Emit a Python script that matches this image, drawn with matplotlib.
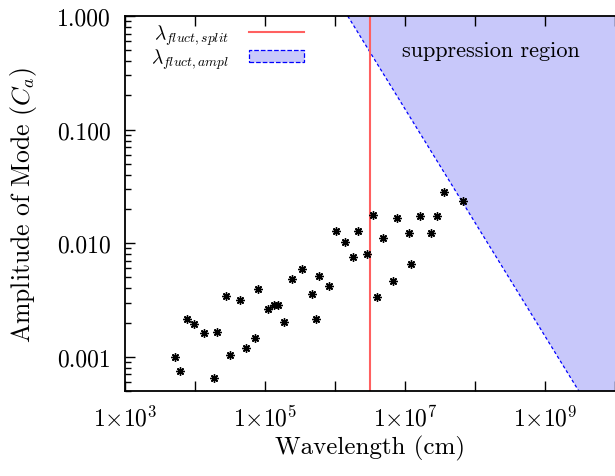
import numpy as np
import matplotlib
matplotlib.use("Agg")
import matplotlib.pyplot as plt
from matplotlib.lines import Line2D
from matplotlib.patches import Patch
from matplotlib.ticker import LogLocator, FixedLocator, FuncFormatter, NullLocator

plt.rcParams["font.family"] = "serif"
plt.rcParams["font.serif"] = ["cmr10", "DejaVu Serif"]
plt.rcParams["mathtext.fontset"] = "cm"
plt.rcParams["axes.formatter.use_mathtext"] = True

# --- data ---
wavelength = [5.2e3, 6.1e3, 7.7e3, 9.8e3, 1.36e4, 1.85e4, 2.05e4, 2.75e4, 3.13e4, 4.39e4,
              5.29e4, 7.11e4, 7.85e4, 1.12e5, 1.36e5, 1.55e5, 1.86e5, 2.45e5, 3.43e5, 4.66e5,
              5.31e5, 5.86e5, 8.32e5, 1.02e6, 1.37e6, 1.79e6, 2.10e6, 2.86e6, 3.49e6, 3.96e6,
              4.89e6, 6.79e6, 7.67e6, 1.15e7, 1.23e7, 1.66e7, 2.34e7, 2.90e7, 3.66e7, 6.68e7]
amplitude = [1.0e-3, 7.5e-4, 2.16e-3, 1.93e-3, 1.63e-3, 6.45e-4, 1.66e-3, 3.45e-3, 1.03e-3, 3.14e-3,
             1.19e-3, 1.45e-3, 3.97e-3, 2.63e-3, 2.85e-3, 2.85e-3, 2.03e-3, 4.84e-3, 5.93e-3, 3.59e-3,
             2.15e-3, 5.14e-3, 4.22e-3, 1.28e-2, 1.02e-2, 7.55e-3, 1.27e-2, 8.03e-3, 1.78e-2, 3.38e-3,
             1.10e-2, 4.62e-3, 1.66e-2, 1.24e-2, 6.6e-3, 1.74e-2, 1.24e-2, 1.74e-2, 2.84e-2, 2.37e-2]

lambda_split = 3.2e6
# suppression boundary (lambda_fluct,ampl) end points
supp_x = [1.52e6, 1e10]
supp_y = [1.0, 1.52e-4]

fig = plt.figure(figsize=(6.15, 4.77), dpi=100)
ax = fig.add_axes([125 / 615, 1 - 392 / 477, 490 / 615, (392 - 17) / 477])
ax.set_xscale("log")
ax.set_yscale("log")
ax.set_xlim(1e3, 1e10)
ax.set_ylim(5e-4, 1.0)

ax.fill_between(supp_x, supp_y, [1.0, 1.0], facecolor="#c8c8fa", edgecolor="none", zorder=1)
ax.plot(supp_x, supp_y, color="#0000ff", lw=0.9, ls=(0, (2.5, 2)), zorder=2)
ax.axvline(lambda_split, color="#ff6060", lw=1.5, zorder=2)
ax.plot(wavelength, amplitude, ls="none", marker=(8, 2, 0), ms=6, mew=1.0, color="black", zorder=3)

ax.text(1.7e8, 0.5, "suppression region", fontsize=16, ha="center", va="center")

# ticks
ax.xaxis.set_major_locator(FixedLocator([10.0 ** k for k in range(3, 11)]))
ax.xaxis.set_minor_locator(NullLocator())
def xfmt(v, pos):
    k = int(round(np.log10(v)))
    return r"$1{\times}10^{%d}$" % k if k % 2 == 1 else ""
ax.xaxis.set_major_formatter(FuncFormatter(xfmt))
ax.yaxis.set_major_locator(FixedLocator([1e-3, 1e-2, 1e-1, 1.0]))
ax.yaxis.set_minor_locator(LogLocator(base=10, subs=np.arange(2, 10)))
ax.yaxis.set_major_formatter(FuncFormatter(lambda v, pos: "%.3f" % v))
ax.tick_params(which="both", direction="in", top=True, right=False, labelsize=17, pad=10)
ax.tick_params(which="major", length=7, width=1)
ax.tick_params(which="minor", length=4, width=1)
for s in ax.spines.values():
    s.set_linewidth(1.3)
ax.spines["right"].set_visible(False)

ax.set_xlabel("Wavelength (cm)", fontsize=18, labelpad=3)
ax.set_ylabel(r"Amplitude of Mode ($C_a$)", fontsize=18.5, labelpad=13)

handles = [Line2D([], [], color="#ff6060", lw=1.5),
           Patch(facecolor="#c8c8fa", edgecolor="#0000ff", ls="--", lw=0.9)]
labels = [r"$\lambda_{fluct,split}$", r"$\lambda_{fluct,ampl}$"]
ax.legend(handles, labels, loc="upper left", bbox_to_anchor=(0.03, 1.015), frameon=False,
          markerfirst=False, fontsize=14, handlelength=2.8, handleheight=0.6,
          labelspacing=0.0, handletextpad=1.0, borderaxespad=0.2)

fig.savefig("out.png", dpi=100)
